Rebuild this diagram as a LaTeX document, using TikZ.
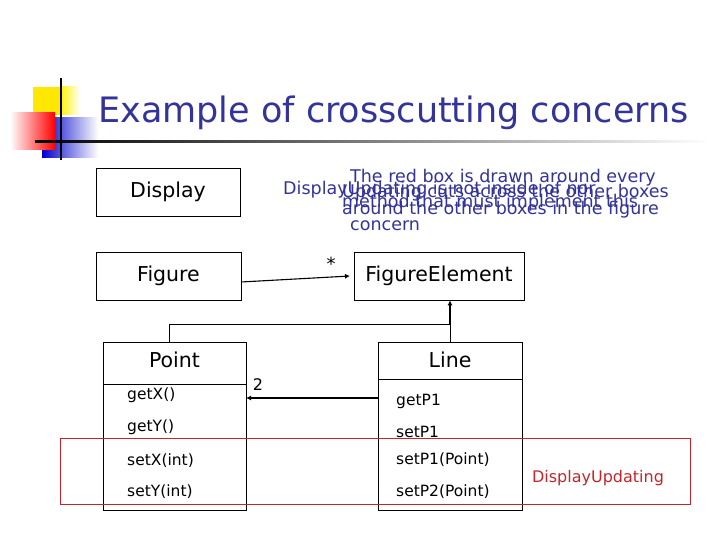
\documentclass[tikz,border=0pt]{standalone}
\usepackage{fontspec}
\setmainfont{DejaVu Sans}
\usetikzlibrary{arrows.meta}
\definecolor{tblue}{HTML}{333399}
\definecolor{rbox}{HTML}{C0262C}
\tikzset{
 cls/.style={draw=black,line width=0.6pt,inner sep=0pt},
 big/.style={font=\fontsize{20.5}{23}\selectfont},
 meth/.style={font=\fontsize{15.5}{17}\selectfont,anchor=west,inner sep=0pt},
 note/.style={font=\fontsize{17.5}{19}\selectfont,text=tblue,anchor=west,inner sep=0pt},
 conn/.style={line width=1.1pt,-{Latex[length=5pt,width=5pt]}}
}
\begin{document}
\begin{tikzpicture}[x=1pt,y=-1pt]
\useasboundingbox (0,0) rectangle (720,540);
% decoration
\fill[yellow!90!orange] (33,87) rectangle (80,115);
\shade[left color=yellow!90!orange,right color=white] (60,87) rectangle (80,115);
\shade[left color=blue!80!black,right color=white] (42,118) rectangle (98,158);
\shade[left color=white,right color=red] (10,113) rectangle (55,150);
\shade[left color=black,right color=white] (35,140.8) rectangle (710,142.2);
\draw[line width=1.4pt] (61,78) -- (61,160);
\node[font=\fontsize{35}{38}\selectfont,text=tblue,anchor=west,inner sep=0pt] (title) at (98,113) {Example of crosscutting concerns};
% boxes
\node[cls,big,minimum width=144pt,minimum height=48pt] (disp) at (168,192) {Display};
\node[cls,big,minimum width=145pt,minimum height=48pt] (fig) at (168.5,276) {Figure};
\node[cls,big,minimum width=170pt,minimum height=48pt] (fe) at (439,276) {FigureElement};
% Point
\draw[line width=0.6pt] (103,342) rectangle (246,510);
\draw[line width=0.6pt] (103,384) -- (246,384);
\node[big] (pt) at (174.5,360) {Point};
\coordinate (ptop) at (169,342);
\coordinate (pright) at (246,398);
\node[meth] (m1) at (127,395) {getX()};
\node[meth] (m2) at (127,427) {getY()};
\node[meth] (m3) at (127,461) {setX(int)};
\node[meth] (m4) at (127,492) {setY(int)};
% Line
\draw[line width=0.6pt] (378,342) rectangle (522,510);
\draw[line width=0.6pt] (378,379) -- (522,379);
\node[big] (ln) at (450,360) {Line};
\coordinate (ltop) at (450,342);
\coordinate (lleft) at (378,398);
\node[meth] (l1) at (396,401) {getP1};
\node[meth] (l2) at (396,432) {setP1};
\node[meth] (l3) at (396,460) {setP1(Point)};
\node[meth] (l4) at (396,492) {setP2(Point)};
% connectors
\coordinate (fa) at (241,282);
\coordinate (fb) at (350,276);
\draw[conn] (fa) -- (fb);
\node[font=\fontsize{18}{20}\selectfont] (star) at (331,264) {*};
\coordinate (jn) at (450,324);
\draw[line width=0.6pt] (ptop) |- (jn) -- (ltop);
\draw[line width=1.6pt,-{Latex[length=5pt,width=5pt]}] (jn) -- (fe.south -| jn);
\draw[conn] (lleft) -- (pright);
\node[font=\fontsize{16}{18}\selectfont] (two) at (258,385) {2};
% red box
\draw[rbox,line width=0.8pt] (60,438) rectangle (690,504);
\node[font=\fontsize{16}{18}\selectfont,text=rbox] (du) at (598,478) {DisplayUpdating};
% overlapping notes
\node[note] (n1) at (350,178) {The red box is drawn around every};
\node[note] (n2) at (342,203) {method that must implement this};
\node[note] (n3) at (350,226) {concern};
\node[note] (n4) at (283,190) {DisplayUpdating is not inside of nor};
\node[note] (n5) at (342,193) {Updating cuts across the other boxes};
\node[note] (n6) at (342,210) {around the other boxes in the figure};
\end{tikzpicture}
\end{document}
